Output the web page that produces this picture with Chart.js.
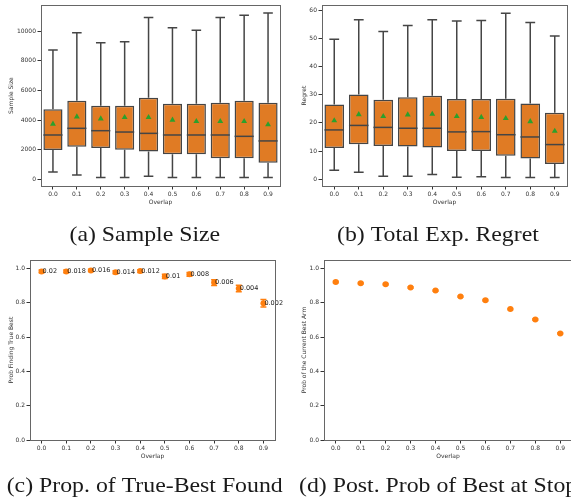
<!DOCTYPE html>
<html>
<head>
<meta charset="utf-8">
<style>
  html, body { margin: 0; padding: 0; background: #fff; }
  #page { position: relative; width: 571px; height: 503px; overflow: hidden; background: #fff; }
  canvas { position: absolute; }
</style>
<script src="https://cdn.jsdelivr.net/npm/chart.js@4/dist/chart.umd.min.js"></script>
</head>
<body>
<div id="page">
  <canvas id="chartA" width="285" height="215" style="left:0px;top:0px"></canvas>
  <canvas id="chartB" width="286" height="215" style="left:285px;top:0px"></canvas>
  <canvas id="chartC" width="285" height="215" style="left:0px;top:255px"></canvas>
  <canvas id="chartD" width="300" height="215" style="left:285px;top:255px"></canvas>
  <canvas id="captions" width="571" height="503" style="left:0px;top:0px"></canvas>
</div>
<script>
// data
var overlapLabels = ['0.0', '0.1', '0.2', '0.3', '0.4', '0.5', '0.6', '0.7', '0.8', '0.9'];
var overlapValues = [0, 0.1, 0.2, 0.3, 0.4, 0.5, 0.6, 0.7, 0.8, 0.9];

var sizeLow = [500, 300, 120, 120, 200, 120, 120, 120, 120, 120];
var sizeQ1 = [1980, 2200, 2110, 2000, 1870, 1690, 1690, 1420, 1420, 1120];
var sizeMedian = [2990, 3440, 3280, 3190, 3100, 2990, 2990, 2990, 2900, 2590];
var sizeQ3 = [4720, 5300, 4970, 4970, 5510, 5100, 5100, 5170, 5300, 5170];
var sizeHigh = [8720, 9890, 9210, 9280, 10920, 10230, 10050, 10920, 11060, 11210];
var sizeMean = [3730, 4220, 4090, 4180, 4180, 4000, 3910, 3910, 3910, 3690];
var sizeTicks = [0, 2000, 4000, 6000, 8000, 10000];

var regretLow = [3.2, 2.5, 1.1, 1.1, 1.7, 0.7, 0.9, 0.6, 0.6, 0.6];
var regretQ1 = [11.1, 12.4, 11.8, 11.6, 11.3, 10.0, 10.0, 8.3, 7.4, 5.4];
var regretMedian = [17.5, 19.1, 18.4, 18.1, 18.1, 16.8, 16.9, 15.8, 15.0, 12.3];
var regretQ3 = [26.5, 30.1, 28.2, 29.1, 29.6, 28.5, 28.5, 28.6, 26.9, 23.6];
var regretHigh = [49.7, 56.6, 52.4, 54.6, 56.6, 56.2, 56.3, 58.9, 55.6, 50.8];
var regretMean = [20.8, 23.0, 22.3, 22.9, 23.1, 22.3, 22.0, 21.6, 20.5, 17.1];
var regretTicks = [0, 10, 20, 30, 40, 50, 60];

var trueBest = [0.984, 0.984, 0.990, 0.979, 0.986, 0.955, 0.967, 0.919, 0.884, 0.798];
var trueBestErr = [0.008, 0.008, 0.007, 0.009, 0.008, 0.013, 0.011, 0.017, 0.019, 0.022];
var thresholdLabels = ['0.02', '0.018', '0.016', '0.014', '0.012', '0.01', '0.008', '0.006', '0.004', '0.002'];

var postBest = [0.922, 0.915, 0.909, 0.890, 0.872, 0.837, 0.816, 0.764, 0.703, 0.622];
var postBestErr = [0.004, 0.004, 0.004, 0.004, 0.004, 0.004, 0.004, 0.004, 0.004, 0.004];
var probTicks = [0, 0.2, 0.4, 0.6, 0.8, 1.0];

var captionA = '(a) Sample Size';
var captionB = '(b) Total Exp. Regret';
var captionC = '(c) Prop. of True-Best Found';
var captionD = '(d) Post. Prob of Best at Stop';

var tickFont = { family: 'DejaVu Sans', size: 6 };
var axisColor = '#666';
var textColor = '#333';
var boxFill = '#e07b24';
var boxEdge = '#454545';
var dotColor = '#ff7f0e';

// frame around the plot area (matplotlib spines)
var framePlugin = {
    id: 'frame',
    afterDraw: function (chart) {
        var a = chart.chartArea, ctx = chart.ctx;
        ctx.save();
        ctx.strokeStyle = axisColor;
        ctx.lineWidth = 1;
        ctx.strokeRect(Math.round(a.left) + 0.5, Math.round(a.top) + 0.5,
            Math.round(a.right - a.left), Math.round(a.bottom - a.top));
        ctx.restore();
    }
};

// layout: canvas box and wanted plot area, in page pixels
function layoutFor(box, area, yTitleX, xTitleY) {
    return {
        padding: { left: 0, top: area.t - box.top, right: box.left + box.width - area.r, bottom: 0 },
        yWidth: area.l - box.left,
        xHeight: box.top + box.height - area.b,
        yTitlePad: yTitleX - box.left - 3.6,
        xTitlePad: box.top + box.height - xTitleY - 3.6
    };
}

function yAxis(L, title, min, max, ticksArr, fmt) {
    return {
        type: 'linear',
        min: min,
        max: max,
        bounds: 'data',
        afterBuildTicks: function (scale) {
            scale.ticks = ticksArr.map(function (v) { return { value: v }; });
        },
        afterFit: function (scale) { scale.width = L.yWidth; },
        grid: { drawOnChartArea: false, tickLength: 3.5, color: textColor },
        border: { color: axisColor },
        ticks: { font: tickFont, color: textColor, padding: 1.5, autoSkip: false, callback: fmt },
        title: { display: true, text: title, font: tickFont, color: textColor, padding: { top: L.yTitlePad, bottom: 0 } }
    };
}

function xTitle(L) {
    return { display: true, text: 'Overlap', font: tickFont, color: textColor, padding: { top: 0, bottom: L.xTitlePad } };
}

function createBoxChart(canvasId, L, low, q1, median, q3, high, mean, yTitle, yMin, yMax, yTicks) {
    var boxPlugin = {
        id: 'whiskers',
        beforeDatasetsDraw: function (chart) {
            var ctx = chart.ctx, y = chart.scales.y;
            var bars = chart.getDatasetMeta(0).data;
            ctx.save();
            ctx.strokeStyle = boxEdge;
            ctx.lineWidth = 1.5;
            bars.forEach(function (bar, i) {
                var x = bar.x, half = bar.width / 4;
                ctx.beginPath();
                ctx.moveTo(x, y.getPixelForValue(low[i]));
                ctx.lineTo(x, y.getPixelForValue(q1[i]));
                ctx.moveTo(x, y.getPixelForValue(q3[i]));
                ctx.lineTo(x, y.getPixelForValue(high[i]));
                ctx.moveTo(x - half, y.getPixelForValue(low[i]));
                ctx.lineTo(x + half, y.getPixelForValue(low[i]));
                ctx.moveTo(x - half, y.getPixelForValue(high[i]));
                ctx.lineTo(x + half, y.getPixelForValue(high[i]));
                ctx.stroke();
            });
            ctx.restore();
        },
        afterDatasetDraw: function (chart, args) {
            if (args.index !== 0) return;
            var ctx = chart.ctx, y = chart.scales.y;
            ctx.save();
            ctx.strokeStyle = boxEdge;
            ctx.lineWidth = 1.5;
            chart.getDatasetMeta(0).data.forEach(function (bar, i) {
                var py = y.getPixelForValue(median[i]);
                ctx.beginPath();
                ctx.moveTo(bar.x - bar.width / 2, py);
                ctx.lineTo(bar.x + bar.width / 2, py);
                ctx.stroke();
            });
            ctx.restore();
        }
    };

    new Chart(document.getElementById(canvasId), {
        type: 'bar',
        data: {
            labels: overlapLabels,
            datasets: [{
                data: q1.map(function (v, i) { return [v, q3[i]]; }),
                backgroundColor: boxFill,
                borderColor: boxEdge,
                borderWidth: 1.5,
                borderSkipped: false,
                barPercentage: 0.8,
                categoryPercentage: 1.0,
                order: 2
            }, {
                type: 'line',
                data: mean,
                showLine: false,
                pointStyle: 'triangle',
                pointRadius: 3.4,
                pointBackgroundColor: '#2ca02c',
                pointBorderColor: '#2ca02c',
                pointBorderWidth: 0,
                order: 1
            }]
        },
        options: {
            responsive: false,
            animation: false,
            layout: { padding: L.padding },
            plugins: { legend: { display: false }, tooltip: { enabled: false } },
            scales: {
                x: {
                    type: 'category',
                    offset: true,
                    afterFit: function (scale) { scale.height = L.xHeight; },
                    grid: { offset: false, drawOnChartArea: false, tickLength: 3.5, color: textColor },
                    border: { color: axisColor },
                    ticks: { font: tickFont, color: textColor, padding: 1, maxRotation: 0, autoSkip: false },
                    title: xTitle(L)
                },
                y: yAxis(L, yTitle, yMin, yMax, yTicks)
            }
        },
        plugins: [boxPlugin, framePlugin]
    });
}

function createDotChart(canvasId, L, values, errs, yTitle, notes) {
    var errPlugin = {
        id: 'errorbars',
        beforeDatasetsDraw: function (chart) {
            var ctx = chart.ctx, x = chart.scales.x, y = chart.scales.y;
            ctx.save();
            ctx.strokeStyle = dotColor;
            ctx.lineWidth = 1.5;
            values.forEach(function (v, i) {
                var px = x.getPixelForValue(overlapValues[i]);
                var top = y.getPixelForValue(v + errs[i]), bot = y.getPixelForValue(v - errs[i]);
                ctx.beginPath();
                ctx.moveTo(px, top);
                ctx.lineTo(px, bot);
                ctx.moveTo(px - 3, top);
                ctx.lineTo(px + 3, top);
                ctx.moveTo(px - 3, bot);
                ctx.lineTo(px + 3, bot);
                ctx.stroke();
            });
            ctx.restore();
        },
        afterDatasetsDraw: function (chart) {
            if (!notes) return;
            var ctx = chart.ctx, x = chart.scales.x, y = chart.scales.y;
            ctx.save();
            ctx.fillStyle = '#222';
            ctx.font = '6.5px "DejaVu Sans"';
            ctx.textAlign = 'left';
            ctx.textBaseline = 'alphabetic';
            values.forEach(function (v, i) {
                ctx.fillText(notes[i], x.getPixelForValue(overlapValues[i]) + 1, y.getPixelForValue(v) + 1.5);
            });
            ctx.restore();
        }
    };

    new Chart(document.getElementById(canvasId), {
        type: 'scatter',
        data: {
            datasets: [{
                data: values.map(function (v, i) { return { x: overlapValues[i], y: v }; }),
                pointRadius: 3,
                pointBackgroundColor: dotColor,
                pointBorderColor: dotColor,
                pointBorderWidth: 0
            }]
        },
        options: {
            responsive: false,
            animation: false,
            layout: { padding: L.padding },
            plugins: { legend: { display: false }, tooltip: { enabled: false } },
            scales: {
                x: {
                    type: 'linear',
                    min: -0.047,
                    max: 0.947,
                    bounds: 'data',
                    afterBuildTicks: function (scale) {
                        scale.ticks = overlapValues.map(function (v) { return { value: v }; });
                    },
                    afterFit: function (scale) { scale.height = L.xHeight; },
                    grid: { drawOnChartArea: false, tickLength: 3.5, color: textColor },
                    border: { color: axisColor },
                    ticks: { font: tickFont, color: textColor, padding: 1, maxRotation: 0, autoSkip: false,
                        callback: function (v) { return v.toFixed(1); } },
                    title: xTitle(L)
                },
                y: yAxis(L, yTitle, 0, 1.05, probTicks, function (v) { return v.toFixed(1); })
            }
        },
        plugins: [errPlugin, framePlugin]
    });
}

var LA = layoutFor({ left: 0, top: 0, width: 285, height: 215 }, { l: 41, t: 5, r: 280, b: 186 }, 11, 202.3);
var LB = layoutFor({ left: 285, top: 0, width: 286, height: 215 }, { l: 322, t: 5, r: 570, b: 186 }, 304, 202.3);
var LC = layoutFor({ left: 0, top: 255, width: 285, height: 215 }, { l: 30, t: 260, r: 275, b: 440 }, 11, 456.5);
var LD = layoutFor({ left: 285, top: 255, width: 300, height: 215 }, { l: 324, t: 260, r: 572, b: 440 }, 304, 456.5);

createBoxChart('chartA', LA, sizeLow, sizeQ1, sizeMedian, sizeQ3, sizeHigh, sizeMean, 'Sample Size', -450, 11750, sizeTicks);
createBoxChart('chartB', LB, regretLow, regretQ1, regretMedian, regretQ3, regretHigh, regretMean, 'Regret', -2.4, 61.8, regretTicks);
createDotChart('chartC', LC, trueBest, trueBestErr, 'Prob Finding True Best', thresholdLabels);
createDotChart('chartD', LD, postBest, postBestErr, 'Prob of the Current Best Arm', null);

// sub-figure captions (the paper's Times text is a little wider than tall)
var cap = document.getElementById('captions').getContext('2d');
cap.font = '21px "Liberation Serif"';
cap.fillStyle = '#1a1a1a';
cap.textBaseline = 'alphabetic';
var stretch = 276 / cap.measureText(captionC).width;

function drawCaption(text, x, baseline, centered) {
    var w = cap.measureText(text).width * stretch;
    cap.save();
    cap.translate(centered ? x - w / 2 : x, baseline);
    cap.scale(stretch, 1);
    cap.fillText(text, 0, 0);
    cap.restore();
}
drawCaption(captionA, 144.8, 241, true);
drawCaption(captionB, 437.9, 241, true);
drawCaption(captionC, 6.7, 491.5, false);
drawCaption(captionD, 299, 491.5, false);
</script>
</body>
</html>
